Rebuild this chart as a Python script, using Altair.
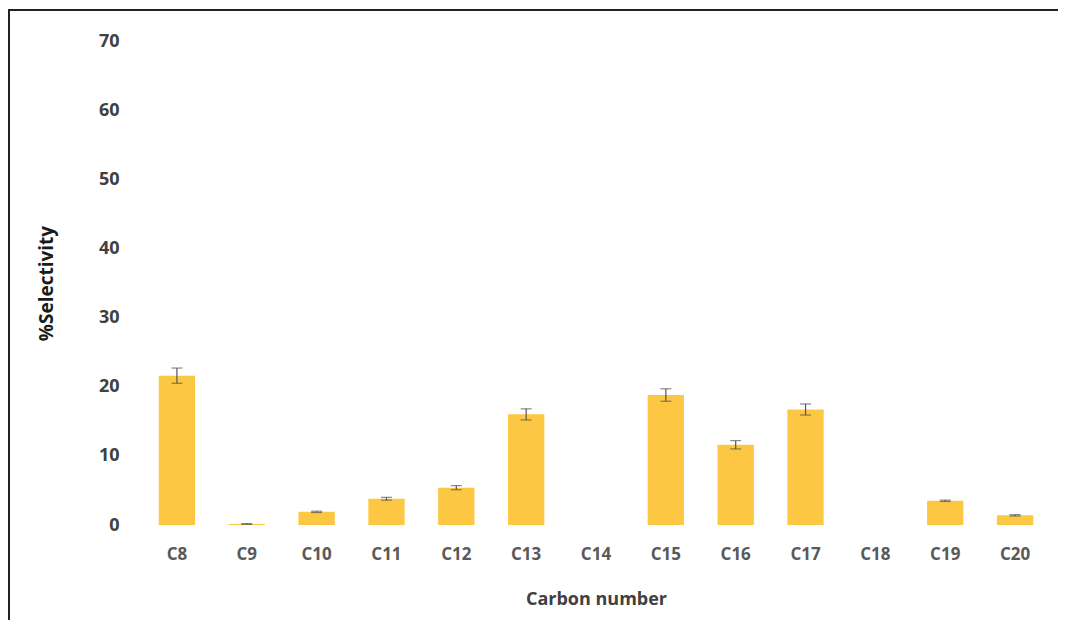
import altair as alt
import pandas as pd

carbons = ["C8", "C9", "C10", "C11", "C12", "C13", "C14", "C15", "C16", "C17", "C18", "C19", "C20"]
selectivity = [21.6, 0.15, 1.9, 3.8, 5.4, 16.0, 0.0, 18.8, 11.6, 16.7, 0.0, 3.5, 1.4]
errors = [1.1, 0.05, 0.1, 0.2, 0.3, 0.8, 0.0, 0.9, 0.6, 0.8, 0.0, 0.1, 0.1]

df = pd.DataFrame({"carbon": carbons, "sel": selectivity, "err": errors})
df["lo"] = df["sel"] - df["err"]
df["hi"] = df["sel"] + df["err"]
df_err = df[df["err"] > 0]

xscale = alt.Scale(domain=carbons, paddingInner=0.48, paddingOuter=0.24)
yscale = alt.Scale(domain=[0, 70], nice=False)

x_axis = alt.Axis(title="Carbon number", labelAngle=0, labelFont="Open Sans", labelFontSize=17,
                  labelFontWeight="bold", labelColor="#595959", labelPadding=21, ticks=False,
                  domain=False, titleFont="Open Sans", titleFontSize=18, titleFontWeight="bold",
                  titleColor="#404040", titlePadding=28)
y_axis = alt.Axis(title="%Selectivity", values=[0, 10, 20, 30, 40, 50, 60, 70], grid=False,
                  domain=False, ticks=False, labelFont="Open Sans", labelFontSize=18,
                  labelFontWeight="bold", labelColor="#404040", labelPadding=23,
                  titleFont="Open Sans", titleFontSize=19, titleFontWeight="bold",
                  titleColor="#1a1a1a", titleX=-86)

base = alt.Chart(df)

bars = base.mark_bar(color="#FCC844").encode(
    x=alt.X("carbon:N", scale=xscale, axis=x_axis, sort=carbons),
    y=alt.Y("sel:Q", scale=yscale, axis=y_axis),
)

err_base = alt.Chart(df_err)
rules = err_base.mark_rule(color="#555555", strokeWidth=1.2).encode(
    x=alt.X("carbon:N", scale=xscale, sort=carbons),
    y=alt.Y("lo:Q", scale=yscale),
    y2="hi:Q",
)
caps_hi = err_base.mark_tick(color="#555555", thickness=1.2, size=11).encode(
    x=alt.X("carbon:N", scale=xscale, sort=carbons),
    y=alt.Y("hi:Q", scale=yscale),
)
caps_lo = err_base.mark_tick(color="#555555", thickness=1.2, size=11).encode(
    x=alt.X("carbon:N", scale=xscale, sort=carbons),
    y=alt.Y("lo:Q", scale=yscale),
)

frame_top = alt.Chart(df.head(1)).mark_rule(color="#222222", strokeWidth=2).encode(
    x=alt.value(-133), x2=alt.value(930), y=alt.value(-31)
)
frame_left = alt.Chart(df.head(1)).mark_rule(color="#222222", strokeWidth=2).encode(
    x=alt.value(-133), y=alt.value(-32), y2=alt.value(600)
)

chart = alt.layer(bars, rules, caps_hi, caps_lo, frame_top, frame_left).properties(
    width=908, height=484,
    autosize=alt.AutoSizeParams(type="none"),
    padding={"left": 134, "top": 33, "right": 8, "bottom": 95},
).configure(background="white", view=alt.ViewConfig(stroke="transparent", strokeWidth=0))

chart.save("out.html", embed_options={"renderer": "svg", "actions": False})
